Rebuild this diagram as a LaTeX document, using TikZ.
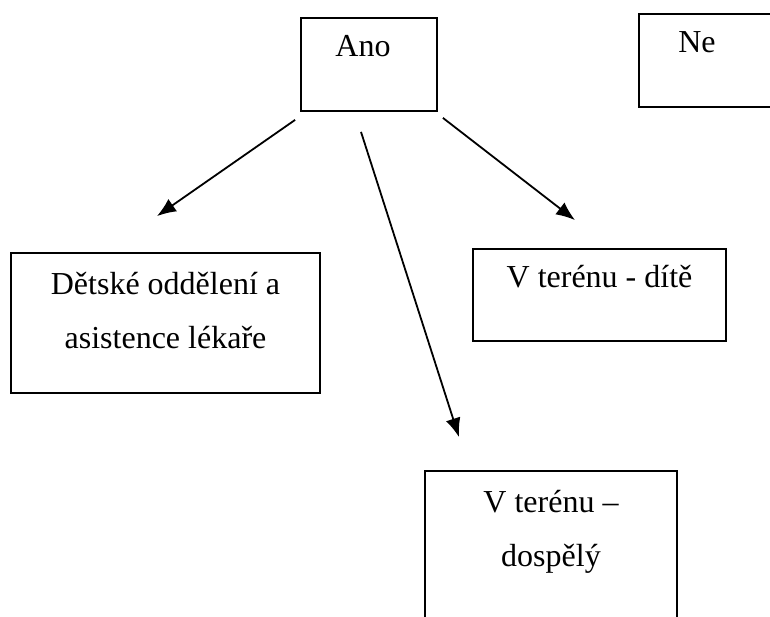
\documentclass[tikz,border=0pt]{standalone}
\usepackage{fontspec}
\setmainfont{Liberation Serif}
\usetikzlibrary{arrows.meta, positioning}

\tikzset{
    box/.style={draw, line width=1.8pt, inner sep=0pt},
    boxtext/.style={inner sep=0pt, align=center, font=\fontsize{32}{54}\selectfont},
    arr/.style={line width=1.8pt, -{Latex[length=19pt,width=15pt]}}
}

\begin{document}
\begin{tikzpicture}[x=1pt, y=-1pt]
    \clip (0,0) rectangle (770,617);
    % Boxes
    \node[box, minimum width=136pt, minimum height=93pt] (ano) at (369,64.5) {};
    \node[box, minimum width=160pt, minimum height=93pt] (ne) at (719,60.5) {};
    \node[box, minimum width=309pt, minimum height=140pt] (detske) at (165.5,323) {};
    \node[box, minimum width=253pt, minimum height=92pt] (dite) at (599.5,295) {};
    \node[box, minimum width=252pt, minimum height=180pt] (dospely) at (551,561) {};
    % Texts
    \node[boxtext, below=18pt of ano.north, xshift=-6pt] (anoT) {Ano};
    \node[boxtext, below=18pt of ne.north, xshift=-22pt] (neT) {Ne};
    \node[boxtext, below=20pt of detske.north] (detskeT) {Dětské oddělení a\\asistence lékaře};
    \node[boxtext, below=17pt of dite.north] (diteT) {V terénu - dítě};
    \node[boxtext, below=20pt of dospely.north] (dospelyT) {V terénu –\\dospělý};
    % Arrows
    \draw[arr] ([shift={(-5,8)}]ano.south west) -- ([shift={(-8.5,-36)}]detske.north);
    \draw[arr] ([shift={(-8,20)}]ano.south) -- ([shift={(-92,-33)}]dospely.north);
    \draw[arr] ([shift={(5,6)}]ano.south east) -- ([shift={(-24.5,-28)}]dite.north);
\end{tikzpicture}
\end{document}
